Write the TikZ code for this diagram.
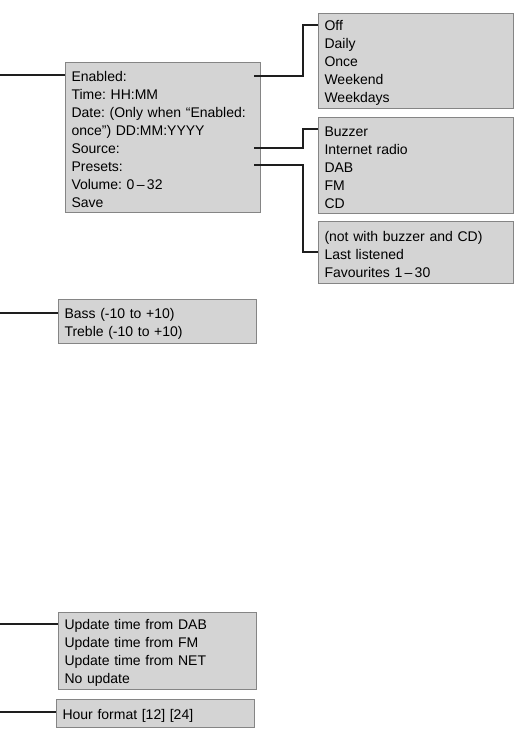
\documentclass[tikz,border=0pt]{standalone}
\usepackage{fontspec}
\setmainfont{Liberation Sans}
\usetikzlibrary{calc}
\newcommand\myts{\rule{0pt}{14pt}}
\begin{document}
\frenchspacing
\begin{tikzpicture}[x=1pt,y=-1pt,
  box/.style={draw=boxline,fill=boxfill,line width=1pt,anchor=north west,align=left,
    inner xsep=6pt,inner ysep=0pt,font=\fontsize{14pt}{18pt}\selectfont\frenchspacing},
  conn/.style={draw=linecol,line width=1.5pt}]
\definecolor{boxfill}{HTML}{D4D4D4}
\definecolor{boxline}{HTML}{858585}
\definecolor{linecol}{HTML}{1E1E1E}
\path[use as bounding box] (0,0) rectangle (530,741);
\node[box,minimum width=195pt,minimum height=150pt,text width=183pt] (A) at (65,62)
  {\myts Enabled:\\Time: HH:MM\\Date: (Only when “Enabled:\\once”) DD:MM:YYYY\\Source:\\Presets:\\Volume: 0\,–\,32\\Save};
\node[box,minimum width=195pt,minimum height=95pt,text width=183pt] (O) at (318,13)
  {\myts Off\\Daily\\Once\\Weekend\\Weekdays};
\node[box,minimum width=195pt,minimum height=96pt,text width=183pt] (S) at (318,117)
  {\myts Buzzer\\Internet radio\\DAB\\FM\\CD};
\node[box,minimum width=195pt,minimum height=62pt,text width=183pt] (P) at (318,221)
  {\myts (not with buzzer and CD)\\Last listened\\Favourites 1\,–\,30};
\node[box,minimum width=198pt,minimum height=44pt,text width=186pt] (B) at (58,299)
  {\myts Bass (-10 to +10)\\Treble (-10 to +10)};
\node[box,minimum width=198pt,minimum height=77pt,text width=186pt] (U) at (58,612)
  {\myts Update time from DAB\\Update time from FM\\Update time from NET\\No update};
\node[box,minimum width=198pt,minimum height=28pt,text width=186pt] (H) at (56,699)
  {\myts Hour format [12] [24]};
% free ends
\coordinate (lA) at (0,75);
\coordinate (lB) at (0,313);
\coordinate (lU) at (0,624);
\coordinate (lH) at (0,712);
\coordinate (en) at (254,76);
\coordinate (so) at (254,148);
\coordinate (pr) at (254,165);
\coordinate (oT) at ($(O.north west)+(0,12)$);
\coordinate (sT) at ($(S.north west)+(0,12)$);
\coordinate (pT) at ($(P.north west)+(0,31)$);
\draw[conn] (lA) -- (lA -| A.west);
\draw[conn] (lB) -- (lB -| B.west);
\draw[conn] (lU) -- (lU -| U.west);
\draw[conn] (lH) -- (lH -| H.west);
\draw[conn] (en) -- (303,76) |- (oT);
\draw[conn] (so) -- (303,148) |- (sT);
\draw[conn] (pr) -- (303,165) |- (pT);
\end{tikzpicture}
\end{document}
